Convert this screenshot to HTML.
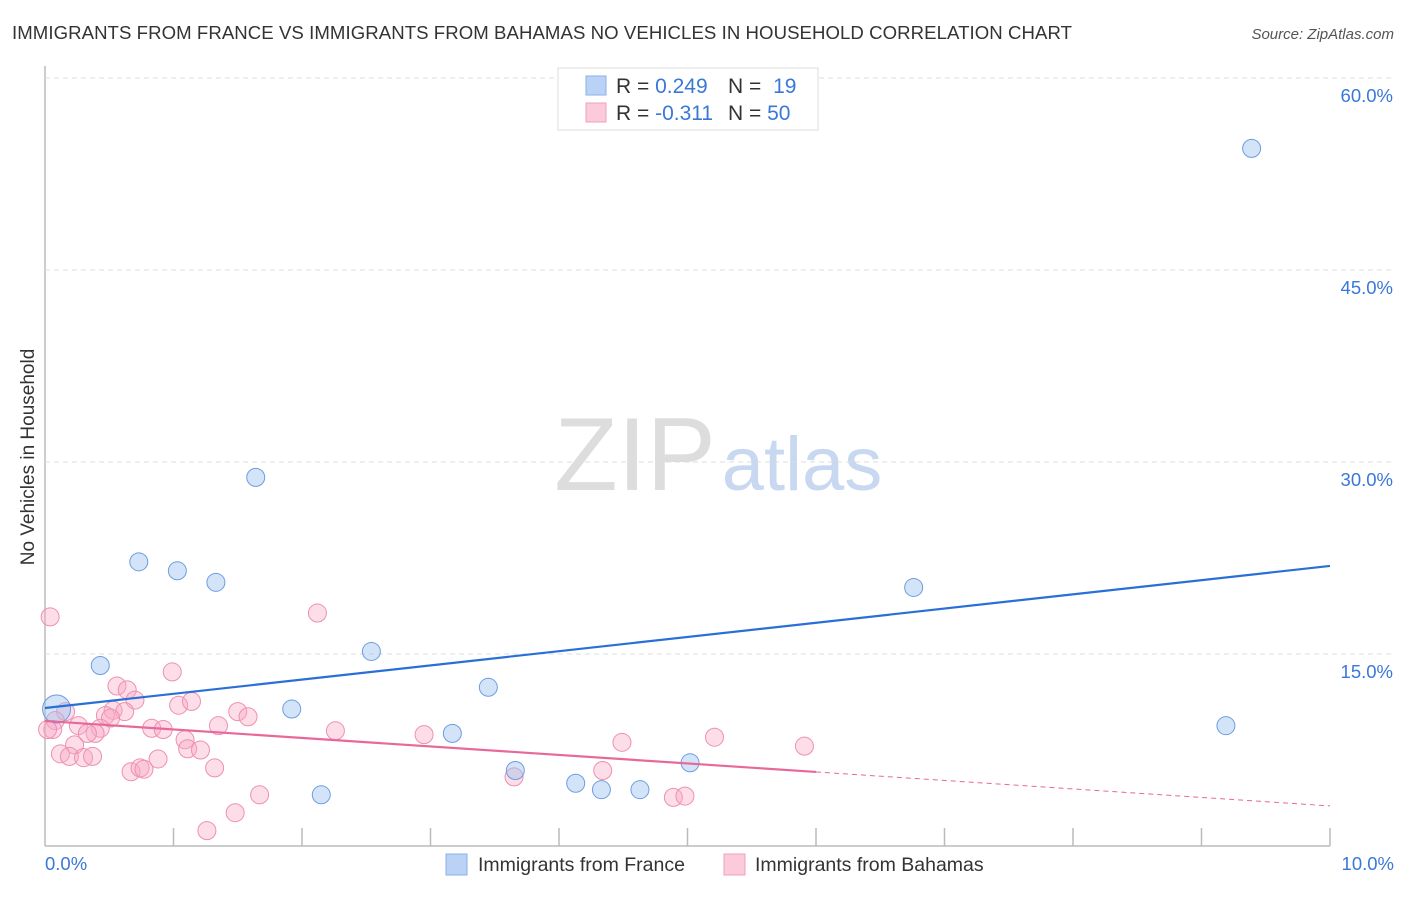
<!DOCTYPE html>
<html><head><meta charset="utf-8"><style>
body{margin:0;background:#fff;font-family:"Liberation Sans",sans-serif}
svg text{font-family:"Liberation Sans",sans-serif}
</style></head><body>
<svg id="c" width="1406" height="892">
<text x="12" y="39" font-size="18.6" fill="#333" textLength="1060">IMMIGRANTS FROM FRANCE VS IMMIGRANTS FROM BAHAMAS NO VEHICLES IN HOUSEHOLD CORRELATION CHART</text>
<text x="1394" y="39" font-size="15" fill="#555" font-style="italic" text-anchor="end">Source: ZipAtlas.com</text>
<text x="34" y="457" font-size="19" fill="#333" text-anchor="middle" transform="rotate(-90 34 457)">No Vehicles in Household</text>
<g><text x="635" y="490" font-size="104" fill="#ddd" font-family="Liberation Serif" text-anchor="middle">ZIP</text><text x="802" y="490" font-size="76" fill="#c8d8f0" text-anchor="middle">atlas</text></g>
<g id="grid"></g><g id="marks"></g>
<g>
<rect x="558" y="68" width="260" height="62" fill="#fff" stroke="#ddd"/>
<rect x="586" y="76" width="20" height="19" fill="#b9d2f5" stroke="#8ab0e8"/>
<rect x="586" y="103" width="20" height="19" fill="#fbcadb" stroke="#f0a0bb"/>
<text x="616" y="93" font-size="21" fill="#333">R = <tspan fill="#3a78d8">0.249</tspan></text>
<text x="728" y="93" font-size="21" fill="#333">N = <tspan fill="#3a78d8" dx="6">19</tspan></text>
<text x="616" y="120" font-size="21" fill="#333">R = <tspan fill="#3a78d8">-0.311</tspan></text>
<text x="728" y="120" font-size="21" fill="#333">N = <tspan fill="#3a78d8">50</tspan></text>
</g>
<g>
<rect x="446" y="854" width="21" height="21" fill="#b9d2f5" stroke="#8ab0e8"/>
<text x="478" y="871" font-size="19.5" fill="#333">Immigrants from France</text>
<rect x="724" y="854" width="21" height="21" fill="#fbcadb" stroke="#f0a0bb"/>
<text x="755" y="871" font-size="19.5" fill="#333">Immigrants from Bahamas</text>
</g>
</svg>
<script>
const xTicks=[0,1,2,3,4,5,6,7,8,9,10];
const yTicks=[15,30,45,60];
const franceX=[0.09,0.43,0.73,1.03,1.33,1.64,1.92,2.15,2.54,3.17,3.45,3.66,4.13,4.33,4.63,5.02,6.76,9.19,9.39];
const franceY=[10.7,14.1,22.2,21.5,20.6,28.8,10.7,4.0,15.2,8.8,12.4,5.9,4.9,4.4,4.4,6.5,20.2,9.4,54.5];
const bahamasX=[0.04,0.99,2.12,0.56,0.64,0.70,0.16,0.53,0.62,0.47,0.51,1.04,1.14,0.08,0.26,0.43,0.39,0.33,0.06,0.83,0.92,1.35,1.50,1.58,2.26,1.09,1.11,1.21,0.23,0.12,0.19,0.30,0.37,0.88,0.67,0.74,0.77,1.32,1.67,1.48,1.26,2.95,3.65,4.34,4.49,4.89,4.98,5.21,5.91,0.02];
const bahamasY=[17.9,13.6,18.2,12.5,12.2,11.4,10.5,10.6,10.5,10.2,10.0,11.0,11.3,9.8,9.4,9.2,8.8,8.8,9.1,9.2,9.1,9.4,10.5,10.1,9.0,8.3,7.6,7.5,7.9,7.2,7.0,6.9,7.0,6.8,5.8,6.1,6.0,6.1,4.0,2.6,1.2,8.7,5.4,5.9,8.1,3.8,3.9,8.5,7.8,9.1];
const franceTrend=[10.78,21.88];
const bahamasTrend=[9.77,3.13];
const bahamasSolidEnd=6.0;
const NS="http://www.w3.org/2000/svg";
const sx=v=>45+v*128.5, sy=v=>846-v*12.8;
function mk(t,a,p){const e=document.createElementNS(NS,t);for(const k in a)e.setAttribute(k,a[k]);p.appendChild(e);return e;}
const g=document.getElementById('grid'),m=document.getElementById('marks');
mk('line',{x1:45,y1:66,x2:45,y2:846,stroke:'#bbb','stroke-width':1.5},g);
mk('line',{x1:45,y1:846,x2:1330,y2:846,stroke:'#bbb','stroke-width':1.5},g);
yTicks.forEach(v=>{
const l=mk('line',{x1:45,y1:sy(v),x2:1392,y2:sy(v),stroke:'#ddd','stroke-dasharray':'5,4'},g);


const t=mk('text',{x:1393,y:sy(v)+24,'font-size':18.5,fill:'#3a78d8','text-anchor':'end'},g);t.textContent=v.toFixed(1)+'%';


});
xTicks.forEach(v=>{if(v>0){const l=mk('line',{x1:sx(v),y1:828,x2:sx(v),y2:846,stroke:'#bbb','stroke-width':1.5},g);

}});
[[0,'start',45],[10,'end',1394]].forEach(([v,a,x])=>{const t=mk('text',{x:x,y:870,'font-size':18.5,fill:'#3a78d8','text-anchor':a},g);t.textContent=v.toFixed(1)+'%';

});
bahamasX.forEach((x,i)=>{const c=mk('circle',{cx:sx(x),cy:sy(bahamasY[i]),r:9,fill:'rgba(248,170,198,0.4)',stroke:'#ee90b0','stroke-width':1},m);

});
franceX.forEach((x,i)=>{const c=mk('circle',{cx:sx(x),cy:sy(franceY[i]),r:i==0?14:9,fill:'rgba(160,195,240,0.45)',stroke:'#6c9de0','stroke-width':1},m);

});
const ft=mk('line',{x1:sx(0),y1:sy(franceTrend[0]),x2:sx(10),y2:sy(franceTrend[1]),stroke:'#2a6fd6','stroke-width':2.2},m);


const by=x=>bahamasTrend[0]+(bahamasTrend[1]-bahamasTrend[0])*x/10;
const bt=mk('line',{x1:sx(0),y1:sy(by(0)),x2:sx(bahamasSolidEnd),y2:sy(by(bahamasSolidEnd)),stroke:'#e8689a','stroke-width':2.2},m);


const bd=mk('line',{x1:sx(bahamasSolidEnd),y1:sy(by(bahamasSolidEnd)),x2:sx(10),y2:sy(by(10)),stroke:'#e8689a','stroke-width':1,'stroke-dasharray':'5,4'},m);


</script>
</body></html>
